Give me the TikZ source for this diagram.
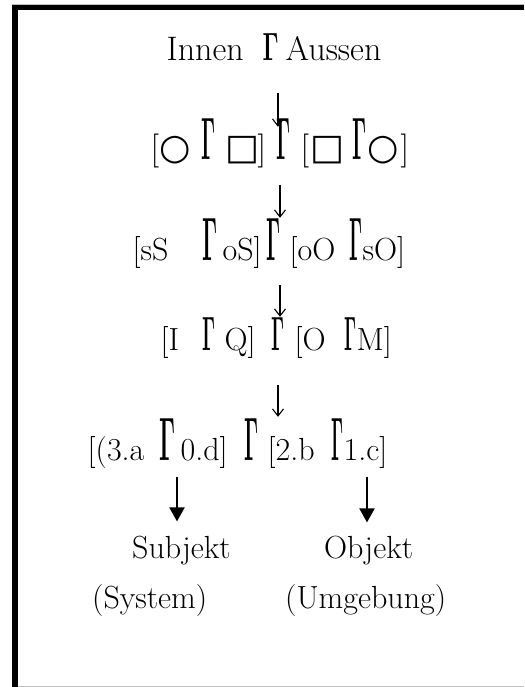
\documentclass[tikz,border=0pt]{standalone}
\usepackage{graphicx}
\usepackage[no-math]{fontspec}
\usepackage{tikz}
\usetikzlibrary{arrows.meta}
\newfontfamily\symf{DejaVu Sans}
% one piece of a row, set at an offset from the row start
\newcommand{\pc}[2]{\rlap{\hspace*{#1}#2}}
\newcommand{\gam}[2]{\resizebox{#1}{#2}{$\mathbf{\Gamma}$}}

\begin{document}
\begin{tikzpicture}[x=1pt, y=-1pt,
   row/.style={anchor=base west, inner sep=0pt,
               font=\fontsize{32}{38}\selectfont},
   bigrow/.style={row, font=\fontsize{34}{40}\selectfont},
   thinarr/.style={-{Straight Barb[length=7pt, width=11pt]}, line width=1.1pt},
   thickarr/.style={-{Triangle[length=14pt, width=15pt]}, line width=2pt}
  ]
  \useasboundingbox (0, 0) rectangle (524, 687);

  % frame
  \draw[gray!50, line width=0.8] (12, 4.2) -- (524, 4.2);
  \draw[gray!50, line width=0.8] (18, 686) -- (524, 686);
  \draw[line width=5.5] (12, 7.5) -- (524, 7.5);
  \draw[line width=6] (15, 4.7) -- (15, 687);

  \coordinate (M1) at (278, 0);
  \coordinate (M2) at (280, 0);
  \coordinate (L) at (177, 0);
  \coordinate (R) at (367, 0);

  \node (R1) at (166, 61) [bigrow] {\pc{0pt}{Innen}\pc{96pt}{\gam{16pt}{27pt}}\pc{119pt}{Aussen}};

  \node (R2) at (150, 160) [bigrow] {\pc{0pt}{[}\pc{9pt}{{\symf\fontsize{36}{40}\selectfont ○}}%
    \pc{51pt}{\gam{14pt}{41pt}}\pc{75pt}{{\symf\fontsize{36}{40}\selectfont □}}\pc{107pt}{]}%
    \pc{126pt}{\gam{14pt}{41pt}}%
    \pc{150pt}{[}\pc{160pt}{{\symf\fontsize{36}{40}\selectfont □}}\pc{202pt}{\gam{14pt}{41pt}}%
    \pc{217pt}{{\symf\fontsize{36}{40}\selectfont ○}}\pc{250pt}{]}};

  \node (R3) at (132, 260) [row] {\pc{0pt}{[sS}\pc{70pt}{\gam{15pt}{42pt}}\pc{90pt}{oS]}%
    \pc{134pt}{\gam{14pt}{42pt}}%
    \pc{157pt}{[oO}\pc{217pt}{\gam{13pt}{42pt}}\pc{230pt}{sO]}};

  \node (R4) at (160, 350) [row] {\pc{0pt}{[I}\pc{42pt}{\gam{13pt}{33pt}}\pc{64pt}{Q]}%
    \pc{111pt}{\gam{13pt}{33pt}}%
    \pc{134pt}{[O}\pc{184pt}{\gam{12pt}{33pt}}\pc{196pt}{M]}};

  \node (R5) at (87, 460) [row] {\pc{0pt}{[(3.a}\pc{72pt}{\gam{16pt}{42pt}}\pc{93pt}{0.d]}%
    \pc{157pt}{\gam{14pt}{42pt}}%
    \pc{180pt}{[2.b}\pc{244pt}{\gam{12pt}{42pt}}\pc{256pt}{1.c]}};

  \node (S1) at (132, 558) [row] {Subjekt};
  \node (S2) at (92, 608) [row] {(System)};
  \node (O1) at (324, 558) [row] {Objekt};
  \node (O2) at (285, 608) [row] {(Umgebung)};

  \draw[thinarr, shorten <=32pt, shorten >=-8pt] (R1.south -| M1) -- (R2.north -| M1);
  \draw[thinarr, shorten <=16pt] (R2.south -| M2) -- (R3.north -| M2);
  \draw[thinarr, shorten <=17pt] (R3.south -| M2) -- (R4.north -| M2);
  \draw[thinarr, shorten <=27pt, shorten >=1pt] (R4.south -| M1) -- (R5.north -| M1);

  \draw[thickarr, shorten <=9pt, shorten >=14pt] (R5.south -| L) -- (S1.north -| L);
  \draw[thickarr, shorten <=9pt, shorten >=13pt] (R5.south -| R) -- (O1.north -| R);

\end{tikzpicture}
\end{document}
